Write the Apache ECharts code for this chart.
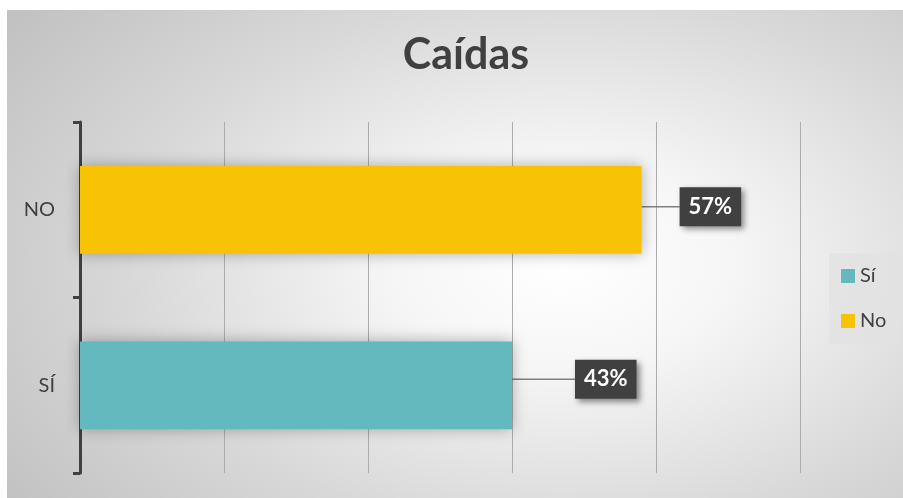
<!DOCTYPE html>
<html>
<head>
<meta charset="utf-8">
<script src="https://cdn.jsdelivr.net/npm/echarts@6/dist/echarts.min.js"></script>
<style>
  html, body { margin: 0; padding: 0; background: #fff; }
  #chart {
    width: 903px;
    height: 498px;
    background-color: #fff;
    background-image: radial-gradient(ellipse 75% 85% at 62% 52%, #ffffff 0%, #f6f6f6 25%, #d8d8d8 65%, #c2c2c2 100%);
    background-position: 7px 10px;
    background-size: 896px 488px;
    background-repeat: no-repeat;
  }
</style>
</head>
<body>
<div id="chart"></div>
<script>
// categories on the axis (bottom to top)
const categories = ['SÍ', 'NO'];
// legend / series names
const seriesNames = ['Sí', 'No'];
// counts behind the percentages
const siValues = [30, '-'];
const noValues = ['-', 39];
const xTicks = { min: 0, max: 50, interval: 10 };

const total = 30 + 39;
const pct = p => Math.round(p.value / total * 100) + '%';

const chart = echarts.init(document.getElementById('chart'));

const labelStyle = {
  show: true,
  position: 'right',
  distance: 0,
  formatter: pct,
  color: '#fff',
  fontFamily: 'Lato',
  fontWeight: 'bold',
  fontSize: 22,
  backgroundColor: '#404040',
  padding: [9, 9, 8, 9],
  shadowColor: 'rgba(0,0,0,0.45)',
  shadowBlur: 6,
  shadowOffsetX: 3,
  shadowOffsetY: 3
};

const labelLine = {
  show: true,
  smooth: 0.3,
  lineStyle: { color: '#808080', width: 1.5 }
};

const option = {
  animation: false,
  title: {
    text: 'Caídas',
    left: 461,
    top: 29,
    textAlign: 'center',
    textStyle: {
      fontFamily: 'Lato',
      fontWeight: 'bold',
      fontSize: 43,
      color: '#404040'
    }
  },
  legend: {
    orient: 'vertical',
    left: 829,
    top: 253,
    data: seriesNames,
    icon: 'rect',
    itemWidth: 14,
    itemHeight: 14,
    itemGap: 25,
    padding: [13, 14, 13, 12],
    backgroundColor: 'rgba(225,225,225,0.75)',
    textStyle: { fontFamily: 'Lato', fontSize: 20, color: '#404040' }
  },
  grid: { left: 80, right: 103, top: 122, bottom: 25 },
  xAxis: {
    type: 'value',
    min: xTicks.min,
    max: xTicks.max,
    interval: xTicks.interval,
    axisLabel: { show: false },
    axisLine: { show: false },
    axisTick: { show: false },
    splitLine: { lineStyle: { color: '#acacac', width: 1 } }
  },
  yAxis: {
    type: 'category',
    data: categories,
    axisLine: { show: true, lineStyle: { color: '#404040', width: 3 } },
    axisTick: { show: true, length: 7, lineStyle: { color: '#404040', width: 3 } },
    axisLabel: { fontFamily: 'Lato', fontSize: 20, color: '#404040', margin: 25 }
  },
  series: [
    {
      name: seriesNames[0],
      type: 'bar',
      stack: 'total',
      barWidth: '50%',
      data: siValues,
      itemStyle: {
        color: '#64b9bf',
        shadowColor: 'rgba(0,0,0,0.3)',
        shadowBlur: 14
      },
      label: labelStyle,
      labelLine: labelLine,
      labelLayout: { dx: 63, dy: -6 }
    },
    {
      name: seriesNames[1],
      type: 'bar',
      stack: 'total',
      barWidth: '50%',
      data: noValues,
      itemStyle: {
        color: '#f7c304',
        shadowColor: 'rgba(0,0,0,0.3)',
        shadowBlur: 14
      },
      label: labelStyle,
      labelLine: labelLine,
      labelLayout: { dx: 38, dy: -3 }
    }
  ]
};

chart.setOption(option);
</script>
</body>
</html>
